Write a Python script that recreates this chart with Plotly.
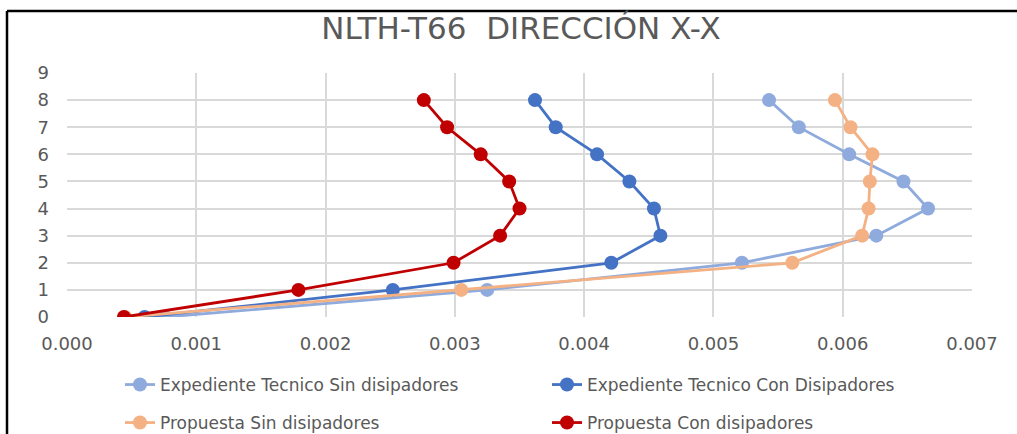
import plotly.graph_objects as go

niveles = [0, 1, 2, 3, 4, 5, 6, 7, 8]

exp_sin = [0.00076, 0.00325, 0.00522, 0.00626, 0.00666, 0.00647, 0.00605, 0.00566, 0.00543]
exp_con = [0.00060, 0.00252, 0.00421, 0.00459, 0.00454, 0.00435, 0.00410, 0.00378, 0.00362]
prop_sin = [0.00045, 0.00305, 0.00561, 0.00615, 0.00620, 0.00621, 0.00623, 0.00606, 0.00594]
prop_con = [0.00044, 0.00179, 0.00299, 0.00335, 0.00350, 0.00342, 0.00320, 0.00294, 0.00276]

series_names = [
    "Expediente Tecnico Sin disipadores",
    "Expediente Tecnico Con Disipadores",
    "Propuesta Sin disipadores",
    "Propuesta Con disipadores",
]
series_values = [exp_sin, exp_con, prop_sin, prop_con]
series_colors = ["#8FAADC", "#4472C4", "#F4B183", "#C00000"]
series_legend = ["legend", "legend", "legend2", "legend2"]

title_text = "NLTH-T66  DIRECCIÓN X-X"
x_ticks = [0.000, 0.001, 0.002, 0.003, 0.004, 0.005, 0.006, 0.007]

W, H = 1017, 434
L, R, T, B = 67, 45, 73, 117
pw, ph = W - L - R, H - T - B

def px(x):
    return (x - L) / pw

def py(y):
    return (H - B - y) / ph

fig = go.Figure()
for name, vals, col, lg in zip(series_names, series_values, series_colors, series_legend):
    fig.add_trace(go.Scatter(
        x=vals, y=niveles, mode="lines+markers", name=name,
        line=dict(color=col, width=2.8),
        marker=dict(color=col, size=14),
        legend=lg,
    ))

text_color = "#595959"
grid_color = "#D9D9D9"
FONT = "DejaVu Sans"

fig.update_layout(
    width=W, height=H,
    margin=dict(l=L, r=R, t=T, b=B, autoexpand=False),
    paper_bgcolor="white", plot_bgcolor="white",
    font=dict(family=FONT, color=text_color, size=17),
    title=dict(text=title_text, xref="container", x=521 / W, xanchor="center",
               yref="container", y=1 - 28 / H, yanchor="middle",
               font=dict(family=FONT, size=31, color=text_color)),
    xaxis=dict(range=[0, 0.007], tickvals=x_ticks, ticktext=[f"{v:.3f}" for v in x_ticks],
               showgrid=True, gridcolor=grid_color, gridwidth=1.5, zeroline=False,
               showline=False, ticks="", ticklabelstandoff=14,
               tickfont=dict(family=FONT, size=18, color=text_color)),
    yaxis=dict(range=[0, 9], dtick=1, showgrid=True, gridcolor=grid_color, gridwidth=1.5,
               zeroline=False, showline=False, ticks="", ticklabelstandoff=17,
               tickfont=dict(family=FONT, size=18, color=text_color)),
    legend=dict(orientation="h", x=px(120), xanchor="left", y=py(385), yanchor="middle",
                entrywidth=382, entrywidthmode="pixels", bgcolor="rgba(0,0,0,0)",
                font=dict(family=FONT, size=17, color=text_color)),
    legend2=dict(orientation="h", x=px(120), xanchor="left", y=py(423), yanchor="middle",
                 entrywidth=382, entrywidthmode="pixels", bgcolor="rgba(0,0,0,0)",
                 font=dict(family=FONT, size=17, color=text_color)),
    shapes=[
        dict(type="line", xref="paper", yref="paper",
             x0=px(7), x1=px(1017), y0=py(11), y1=py(11),
             line=dict(color="black", width=2.5), layer="above"),
        dict(type="line", xref="paper", yref="paper",
             x0=px(7), x1=px(7), y0=py(11), y1=py(434),
             line=dict(color="black", width=2.5), layer="above"),
    ],
)

fig.write_html("out.html",
               config={"displayModeBar": False},
               post_script="document.body.style.margin='0';document.body.style.overflow='hidden';")
